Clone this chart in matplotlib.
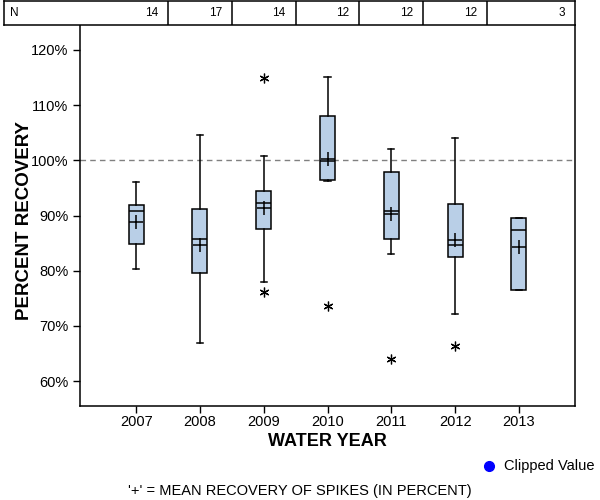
import matplotlib
matplotlib.use("Agg")
import matplotlib.pyplot as plt
from matplotlib.lines import Line2D

plt.rcParams['font.family'] = ['Liberation Sans', 'DejaVu Sans']

years = [2007, 2008, 2009, 2010, 2011, 2012, 2013]
n_counts = [14, 17, 14, 12, 12, 12, 3]
whislo = [80.3, 66.9, 77.9, 96.2, 83.0, 72.1, 76.45]
q1 = [84.8, 79.5, 87.5, 96.4, 85.7, 82.4, 76.45]
med = [90.8, 85.7, 92.2, 99.8, 90.8, 84.6, 87.3]
q3 = [91.9, 91.1, 94.5, 108.1, 97.8, 92.0, 89.5]
whishi = [96.1, 104.5, 100.7, 115.0, 102.0, 104.1, 89.5]
means = [88.9, 84.6, 91.3, 100.2, 90.3, 85.5, 84.35]
outliers = [[], [], [114.9, 76.1], [73.7], [64.1], [66.4], []]
y_ticks = [60, 70, 80, 90, 100, 110, 120]

W, H = 600, 500
fig = plt.figure(figsize=(6, 5), dpi=100)
ax = fig.add_axes([80 / W, (H - 406) / H, 495 / W, 381 / H])

stats = []
for i in range(len(years)):
    stats.append(dict(whislo=whislo[i], q1=q1[i], med=med[i], q3=q3[i],
                      whishi=whishi[i], mean=means[i], fliers=outliers[i]))

box_color = '#b9cfe7'
ax.bxp(stats, positions=years, widths=0.235, patch_artist=True,
       showmeans=True, showfliers=True, manage_ticks=False,
       boxprops=dict(facecolor=box_color, edgecolor='black', linewidth=1.1),
       medianprops=dict(color='black', linewidth=1.1),
       whiskerprops=dict(color='black', linewidth=1.1),
       capprops=dict(color='black', linewidth=1.1),
       capwidths=0.1,
       meanprops=dict(marker='+', markeredgecolor='black', markersize=10,
                      markeredgewidth=1.1, linestyle='none'),
       flierprops=dict(marker=(6, 2, 0), markeredgecolor='black',
                       markerfacecolor='black', markersize=7,
                       markeredgewidth=0.9, linestyle='none'))

ax.axhline(100, color='#808080', linestyle=(0, (4, 3)), linewidth=1.0, zorder=0)

ax.set_xlim(2006.12, 2013.88)
ax.set_ylim(55.5, 124.5)
ax.set_xticks(years)
ax.set_xticklabels([str(y) for y in years])
ax.set_yticks(y_ticks)
ax.set_yticklabels([f"{v}%" for v in y_ticks])
ax.tick_params(axis='both', direction='out', length=5, width=1, labelsize=10.5,
               colors='black')
ax.tick_params(axis='x', pad=1.5)
for s in ax.spines.values():
    s.set_linewidth(1.1)
ax.spines['top'].set_visible(False)

ax.set_xlabel('WATER YEAR', fontsize=13, fontweight='bold', va='center')
ax.set_ylabel('PERCENT RECOVERY', fontsize=13.5, fontweight='bold', va='center')
ax.xaxis.set_label_coords(0.5, -(442 - 406) / 381)
ax.yaxis.set_label_coords((25 - 80) / 495, (406 - 220) / 381)

# header table
x0, x1 = ax.get_xlim()
scale = (x1 - x0) / 495.0
hx0 = x0 - (80 - 4) * scale
hax = fig.add_axes([4 / W, (H - 25) / H, 571 / W, 24 / H])
hax.set_xlim(hx0, x1)
hax.set_ylim(0, 1)
hax.set_xticks([])
hax.set_yticks([])
for s in hax.spines.values():
    s.set_linewidth(1.1)
for i in range(len(years) - 1):
    mid = (years[i] + years[i + 1]) / 2
    hax.axvline(mid, color='black', linewidth=1.1)
hax.text(hx0 + 6 * scale, 0.5, 'N', ha='left', va='center', fontsize=8.5)
rights = [(years[i] + years[i + 1]) / 2 for i in range(len(years) - 1)] + [x1]
for i, n in enumerate(n_counts):
    hax.text(rights[i] - 10 * scale, 0.5, str(n), ha='right', va='center',
             fontsize=8.5)

# legend
fig.add_artist(Line2D([489 / W], [(H - 466) / H], marker='o', color='blue',
                      markersize=7, linestyle='none'))
fig.text(504 / W, (H - 466) / H, 'Clipped Value', ha='left', va='center',
         fontsize=10.5)
fig.text(300 / W, (H - 491) / H, "'+' = MEAN RECOVERY OF SPIKES (IN PERCENT)",
         ha='center', va='center', fontsize=10.5)

fig.savefig('out.png', dpi=100)
